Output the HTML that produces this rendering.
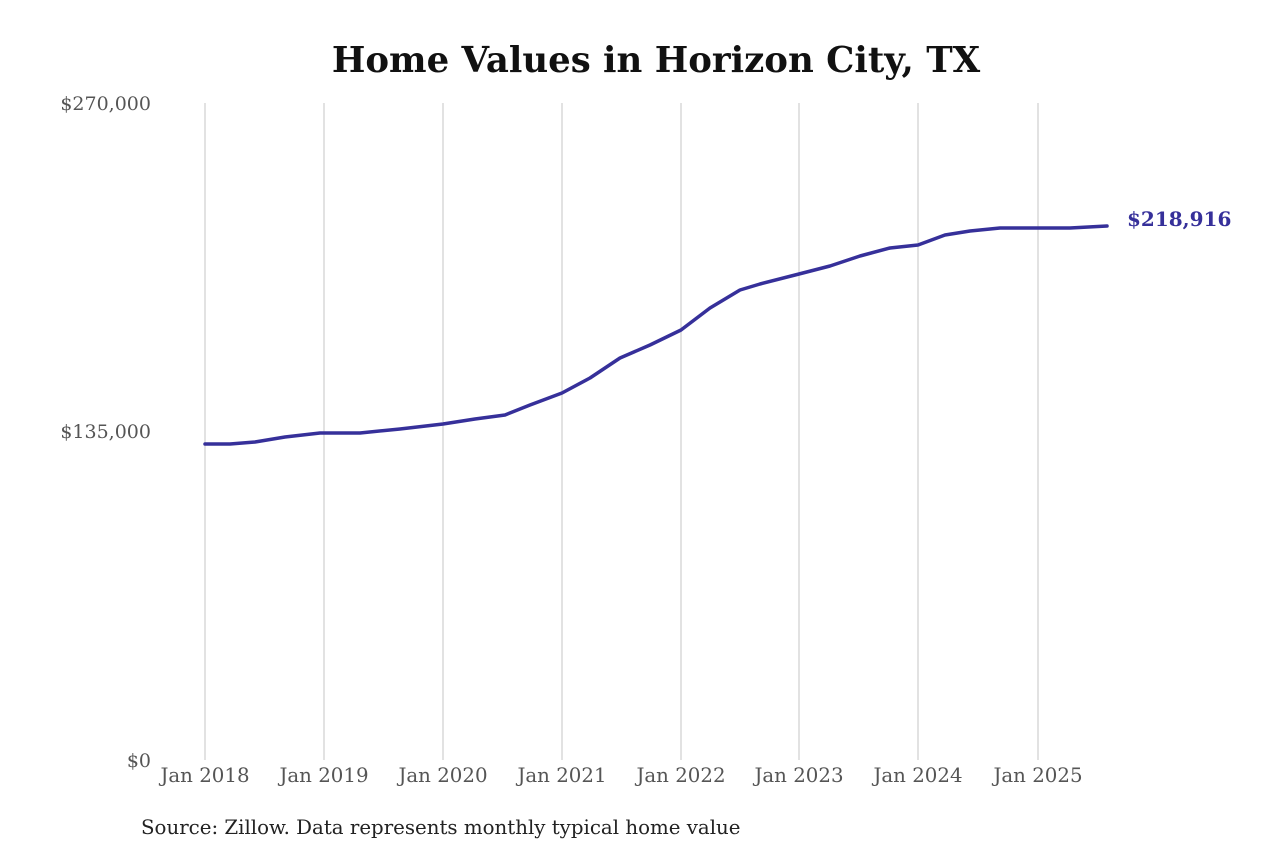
<!DOCTYPE html>
<html><head><meta charset="utf-8"><style>
html,body{margin:0;padding:0;background:#fff;}
svg{display:block;}
text{font-family:"DejaVu Serif","Liberation Serif",serif;}
</style></head><body>
<svg width="1280" height="853" viewBox="0 0 1280 853" xmlns="http://www.w3.org/2000/svg">
<rect width="1280" height="853" fill="#fff"/>
<text x="656" y="72" text-anchor="middle" font-size="35.5" font-weight="bold" fill="#111">Home Values in Horizon City, TX</text>
<g stroke="#c4c4c4" stroke-width="1">
<line x1="205" y1="103" x2="205" y2="760"/><line x1="324" y1="103" x2="324" y2="760"/>
<line x1="443" y1="103" x2="443" y2="760"/><line x1="562" y1="103" x2="562" y2="760"/>
<line x1="681" y1="103" x2="681" y2="760"/><line x1="799" y1="103" x2="799" y2="760"/>
<line x1="918" y1="103" x2="918" y2="760"/><line x1="1038" y1="103" x2="1038" y2="760"/>
</g>
<g font-size="19" fill="#555" text-anchor="end">
<text x="151" y="110">$270,000</text>
<text x="151" y="438">$135,000</text>
<text x="151" y="767">$0</text>
</g>
<g font-size="19.8" fill="#555" text-anchor="middle">
<text x="205" y="782">Jan 2018</text><text x="324" y="782">Jan 2019</text>
<text x="443" y="782">Jan 2020</text><text x="562" y="782">Jan 2021</text>
<text x="681" y="782">Jan 2022</text><text x="799" y="782">Jan 2023</text>
<text x="918" y="782">Jan 2024</text><text x="1038" y="782">Jan 2025</text>
</g>
<path fill="none" stroke="#36309a" stroke-width="3.5" stroke-linejoin="round" stroke-linecap="round"
d="M205,444 L230,444 L255,442 L285,437 L320,433 L340,433 L360,433 L400,429 L443,424 L475,419 L505,415 L530,405 L562,393 L590,378 L620,358 L650,345 L681,330 L710,308 L740,290 L760,284 L799,274 L830,266 L860,256 L890,248 L918,245 L945,235 L970,231 L1000,228 L1038,228 L1070,228 L1107,226"/>
<text x="1127" y="226" font-size="20" font-weight="bold" fill="#36309a">$218,916</text>
<text x="141" y="834" font-size="19.8" fill="#222">Source: Zillow. Data represents monthly typical home value</text>
</svg>
</body></html>
